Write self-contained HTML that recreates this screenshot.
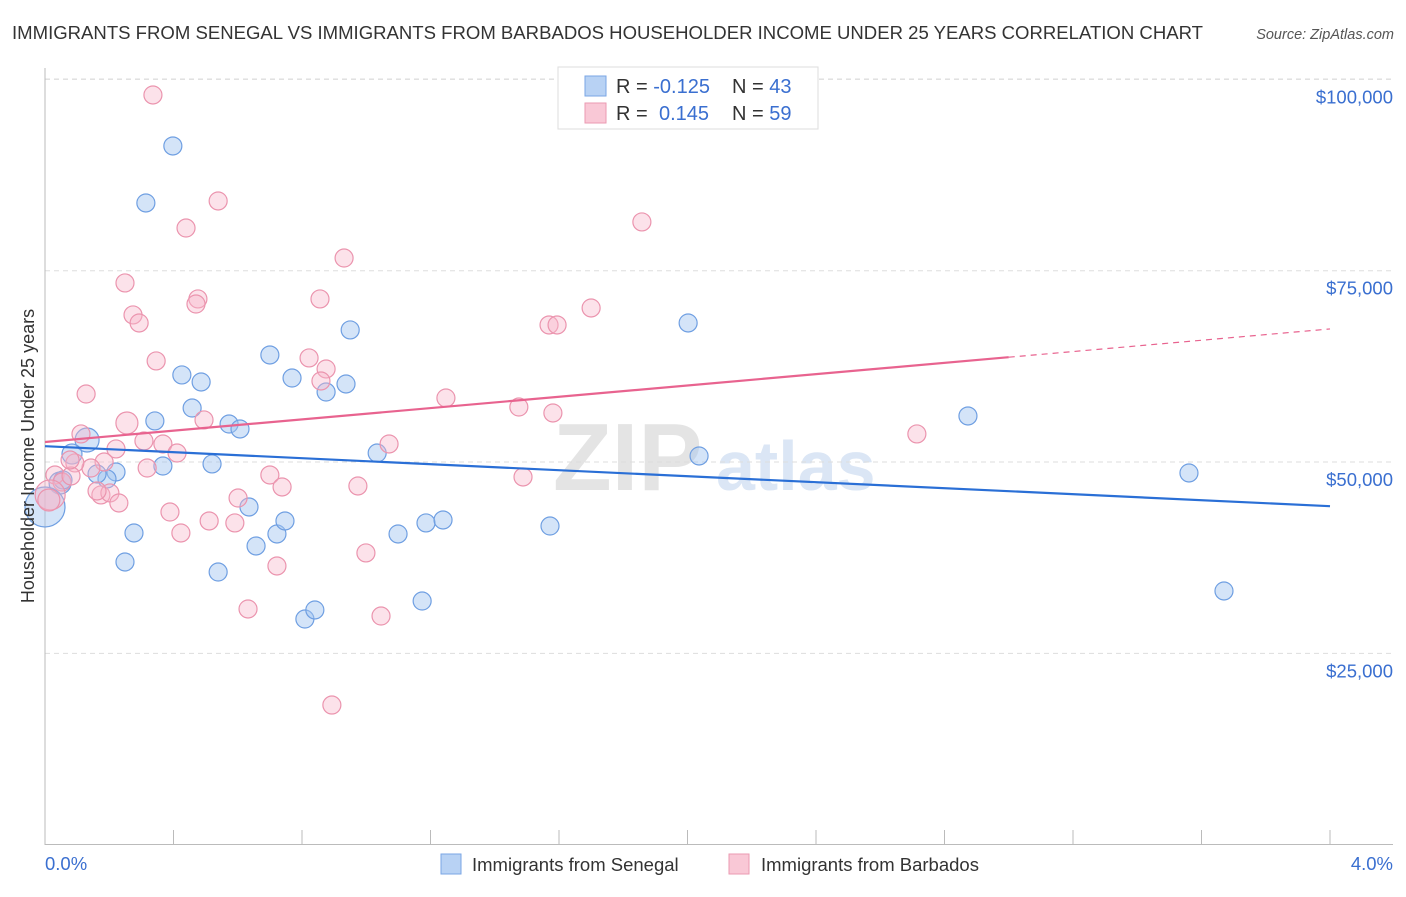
<!DOCTYPE html>
<html><head><meta charset="utf-8"><style>
body{margin:0;background:#fff;font-family:"Liberation Sans",sans-serif;}
svg text{font-family:"Liberation Sans",sans-serif;}
</style></head><body>
<svg id="chart" width="1406" height="892">
<text x="12" y="39" font-size="18" fill="#333" textLength="1191" lengthAdjust="spacingAndGlyphs">IMMIGRANTS FROM SENEGAL VS IMMIGRANTS FROM BARBADOS HOUSEHOLDER INCOME UNDER 25 YEARS CORRELATION CHART</text>
<text x="1394" y="39" font-size="14.5" fill="#555" font-style="italic" text-anchor="end">Source: ZipAtlas.com</text>
<g>
<text x="553" y="490" font-size="96" fill="#e4e4e4" font-family="Liberation Serif" font-weight="bold">ZIP</text>
<text x="716" y="490" font-size="70" fill="#dbe6f5" font-weight="bold">atlas</text>
</g>
<g id="grid"></g>
<g id="axes"></g>
<g id="points"></g>
<g id="trends"></g>
<text transform="translate(34,456) rotate(-90)" font-size="18" fill="#333" text-anchor="middle">Householder Income Under 25 years</text>
<g>
<rect x="558" y="67" width="260" height="62" fill="#fff" stroke="#ddd"/>
<rect x="585" y="76" width="21" height="20" fill="#b8d2f4" stroke="#7aa6e4"/>
<text x="616" y="93" font-size="20" fill="#333">R = <tspan fill="#3a6fd0">-0.125</tspan><tspan x="732">N = </tspan><tspan fill="#3a6fd0">43</tspan></text>
<rect x="585" y="103" width="21" height="20" fill="#f9c8d6" stroke="#eb9ab2"/>
<text x="616" y="120" font-size="20" fill="#333">R = <tspan x="659" fill="#3a6fd0">0.145</tspan><tspan x="732">N = </tspan><tspan fill="#3a6fd0">59</tspan></text>
</g>
<g>
<rect x="441" y="854" width="20" height="20" fill="#b8d2f4" stroke="#7aa6e4"/>
<text x="472" y="871" font-size="18.5" fill="#333">Immigrants from Senegal</text>
<rect x="729" y="854" width="20" height="20" fill="#f9c8d6" stroke="#eb9ab2"/>
<text x="761" y="871" font-size="18.5" fill="#333">Immigrants from Barbados</text>
</g>
</svg>
<script>
const yTicks=[25000,50000,75000,100000];
const yTickLabels=["$25,000","$50,000","$75,000","$100,000"];
const xTickCount=10;
const xLabels=["0.0%","4.0%"];
const senegalX=[0.398,0.314,0.426,0.486,0.342,0.458,0.573,0.607,0.367,0.520,0.700,0.769,0.875,0.937,0.950,1.034,0.635,0.657,0.722,0.747,0.277,0.249,0.539,0.809,0.840,1.099,1.186,1.239,1.174,1.572,2.002,2.036,2.873,3.561,3.670,0.131,0.221,0.193,0.084,0.047,0.162,0,0.056];
const senegalY=[91300,83850,61380,60460,55370,57060,54970,54320,49480,49750,63990,60980,59150,60200,67260,51180,44130,39030,40600,42300,40730,36940,35630,29490,30670,40600,42040,42430,31840,41640,68170,50790,56020,48570,33150,52880,48700,47790,51050,47260,48440,44130,47660];
const senegalR=[9,9,9,9,9,9,9,9,9,9,9,9,9,9,9,9,9,9,9,9,9,9,9,9,9,9,9,9,9,9,9,9,9,9,9,12,9,9,10,11,9,20,9];
const barbadosX=[0.336,0.539,0.439,1.858,0.931,0.249,0.476,0.470,0.856,0.274,0.293,1.569,1.594,1.700,0.346,0.822,0.875,0.859,0.128,1.248,0.255,1.475,1.581,0.495,0.112,0.308,0.367,0.411,0.221,1.071,0.318,0.700,0.738,0.974,1.488,2.714,0.601,0.389,0.511,0.591,0.423,0.999,0.722,0.632,1.046,0.893,0.184,0.143,0.174,0.202,0.162,0.230,0.093,0.031,0.053,0.081,0.016,0.078,0.012];
const barbadosY=[97960,84110,80580,81370,76660,73400,71310,70650,71310,69220,68170,67910,67910,70130,63210,63600,62160,60590,58890,58370,55100,57190,56410,55500,53670,52750,52360,51180,51710,52360,49220,48310,46740,46870,48050,53670,45300,43470,42300,42040,40730,38120,36420,30800,29880,18250,50010,49220,45700,45960,46220,44650,49880,48310,47390,48180,45700,50270,45040];
const barbadosR=[9,9,9,9,9,9,9,9,9,9,9,9,9,9,9,9,9,9,9,9,11,9,9,9,9,9,9,9,9,9,9,9,9,9,9,9,9,9,9,9,9,9,9,9,9,9,9,9,9,9,9,9,9,9,9,9,15,9,11];
const senegalTrend=[52070,44230];
const barbadosTrend=[52620,67390];
const barbadosSolidEnd=3.0;

const NS="http://www.w3.org/2000/svg";
const X0=45,X1=1330,Y0=844.7,PXPER=191.33/25000;
const xs=v=>X0+v/4*(X1-X0);
const ys=v=>Y0-v*PXPER;
function mk(tag,attrs,parent){const e=document.createElementNS(NS,tag);for(const k in attrs)e.setAttribute(k,attrs[k]);parent.appendChild(e);return e;}
const grid=document.getElementById('grid'),axes=document.getElementById('axes');
yTicks.forEach((t,i)=>{
 const l=mk('line',{x1:45,x2:1393,y1:ys(t),y2:ys(t),stroke:'#ddd','stroke-dasharray':'5,4'},grid);
 
 
 const tx=mk('text',{x:1393,y:ys(t)+24,'font-size':18.5,fill:'#3a6fd0','text-anchor':'end'},grid);
 tx.textContent=yTickLabels[i];
 
 
});
const topGrid=mk('line',{x1:45,x2:1393,y1:79,y2:79,stroke:'#ddd','stroke-dasharray':'5,4'},grid);


const ya=mk('line',{x1:45,x2:45,y1:68,y2:845,stroke:'#bbb'},axes);


const xa=mk('line',{x1:45,x2:1393,y1:844.5,y2:844.5,stroke:'#bbb'},axes);


for(let i=0;i<=xTickCount;i++){
 const x=xs(i*4/xTickCount);
 const t=mk('line',{x1:x,x2:x,y1:830,y2:845,stroke:'#bbb'},axes);
 
 
}
const xl0=mk('text',{x:45,y:870,'font-size':18.5,fill:'#3a6fd0'},axes);
xl0.textContent=xLabels[0];


const xl1=mk('text',{x:1393,y:870,'font-size':18.5,fill:'#3a6fd0','text-anchor':'end'},axes);
xl1.textContent=xLabels[1];


const pts=document.getElementById('points');
senegalX.forEach((v,i)=>{
 const c=mk('circle',{cx:xs(v),cy:ys(senegalY[i]),r:senegalR[i],fill:'rgba(160,196,240,0.45)',stroke:'#6f9fe2','stroke-width':1.2},pts);
 
 
});
barbadosX.forEach((v,i)=>{
 const c=mk('circle',{cx:xs(v),cy:ys(barbadosY[i]),r:barbadosR[i],fill:'rgba(248,182,202,0.4)',stroke:'#eb94ae','stroke-width':1.2},pts);
 
 
});
const tr=document.getElementById('trends');
const bl=mk('line',{x1:xs(0),y1:ys(senegalTrend[0]),x2:xs(4),y2:ys(senegalTrend[1]),stroke:'#2a6fd6','stroke-width':2.2},tr);


const pAt=x=>barbadosTrend[0]+(barbadosTrend[1]-barbadosTrend[0])*x/4;
const pl=mk('line',{x1:xs(0),y1:ys(pAt(0)),x2:xs(barbadosSolidEnd),y2:ys(pAt(barbadosSolidEnd)),stroke:'#e8638f','stroke-width':2.2},tr);


const pd=mk('line',{x1:xs(barbadosSolidEnd),y1:ys(pAt(barbadosSolidEnd)),x2:xs(4),y2:ys(pAt(4)),stroke:'#e8638f','stroke-width':1.2,'stroke-dasharray':'6,5'},tr);


</script>
</body></html>
